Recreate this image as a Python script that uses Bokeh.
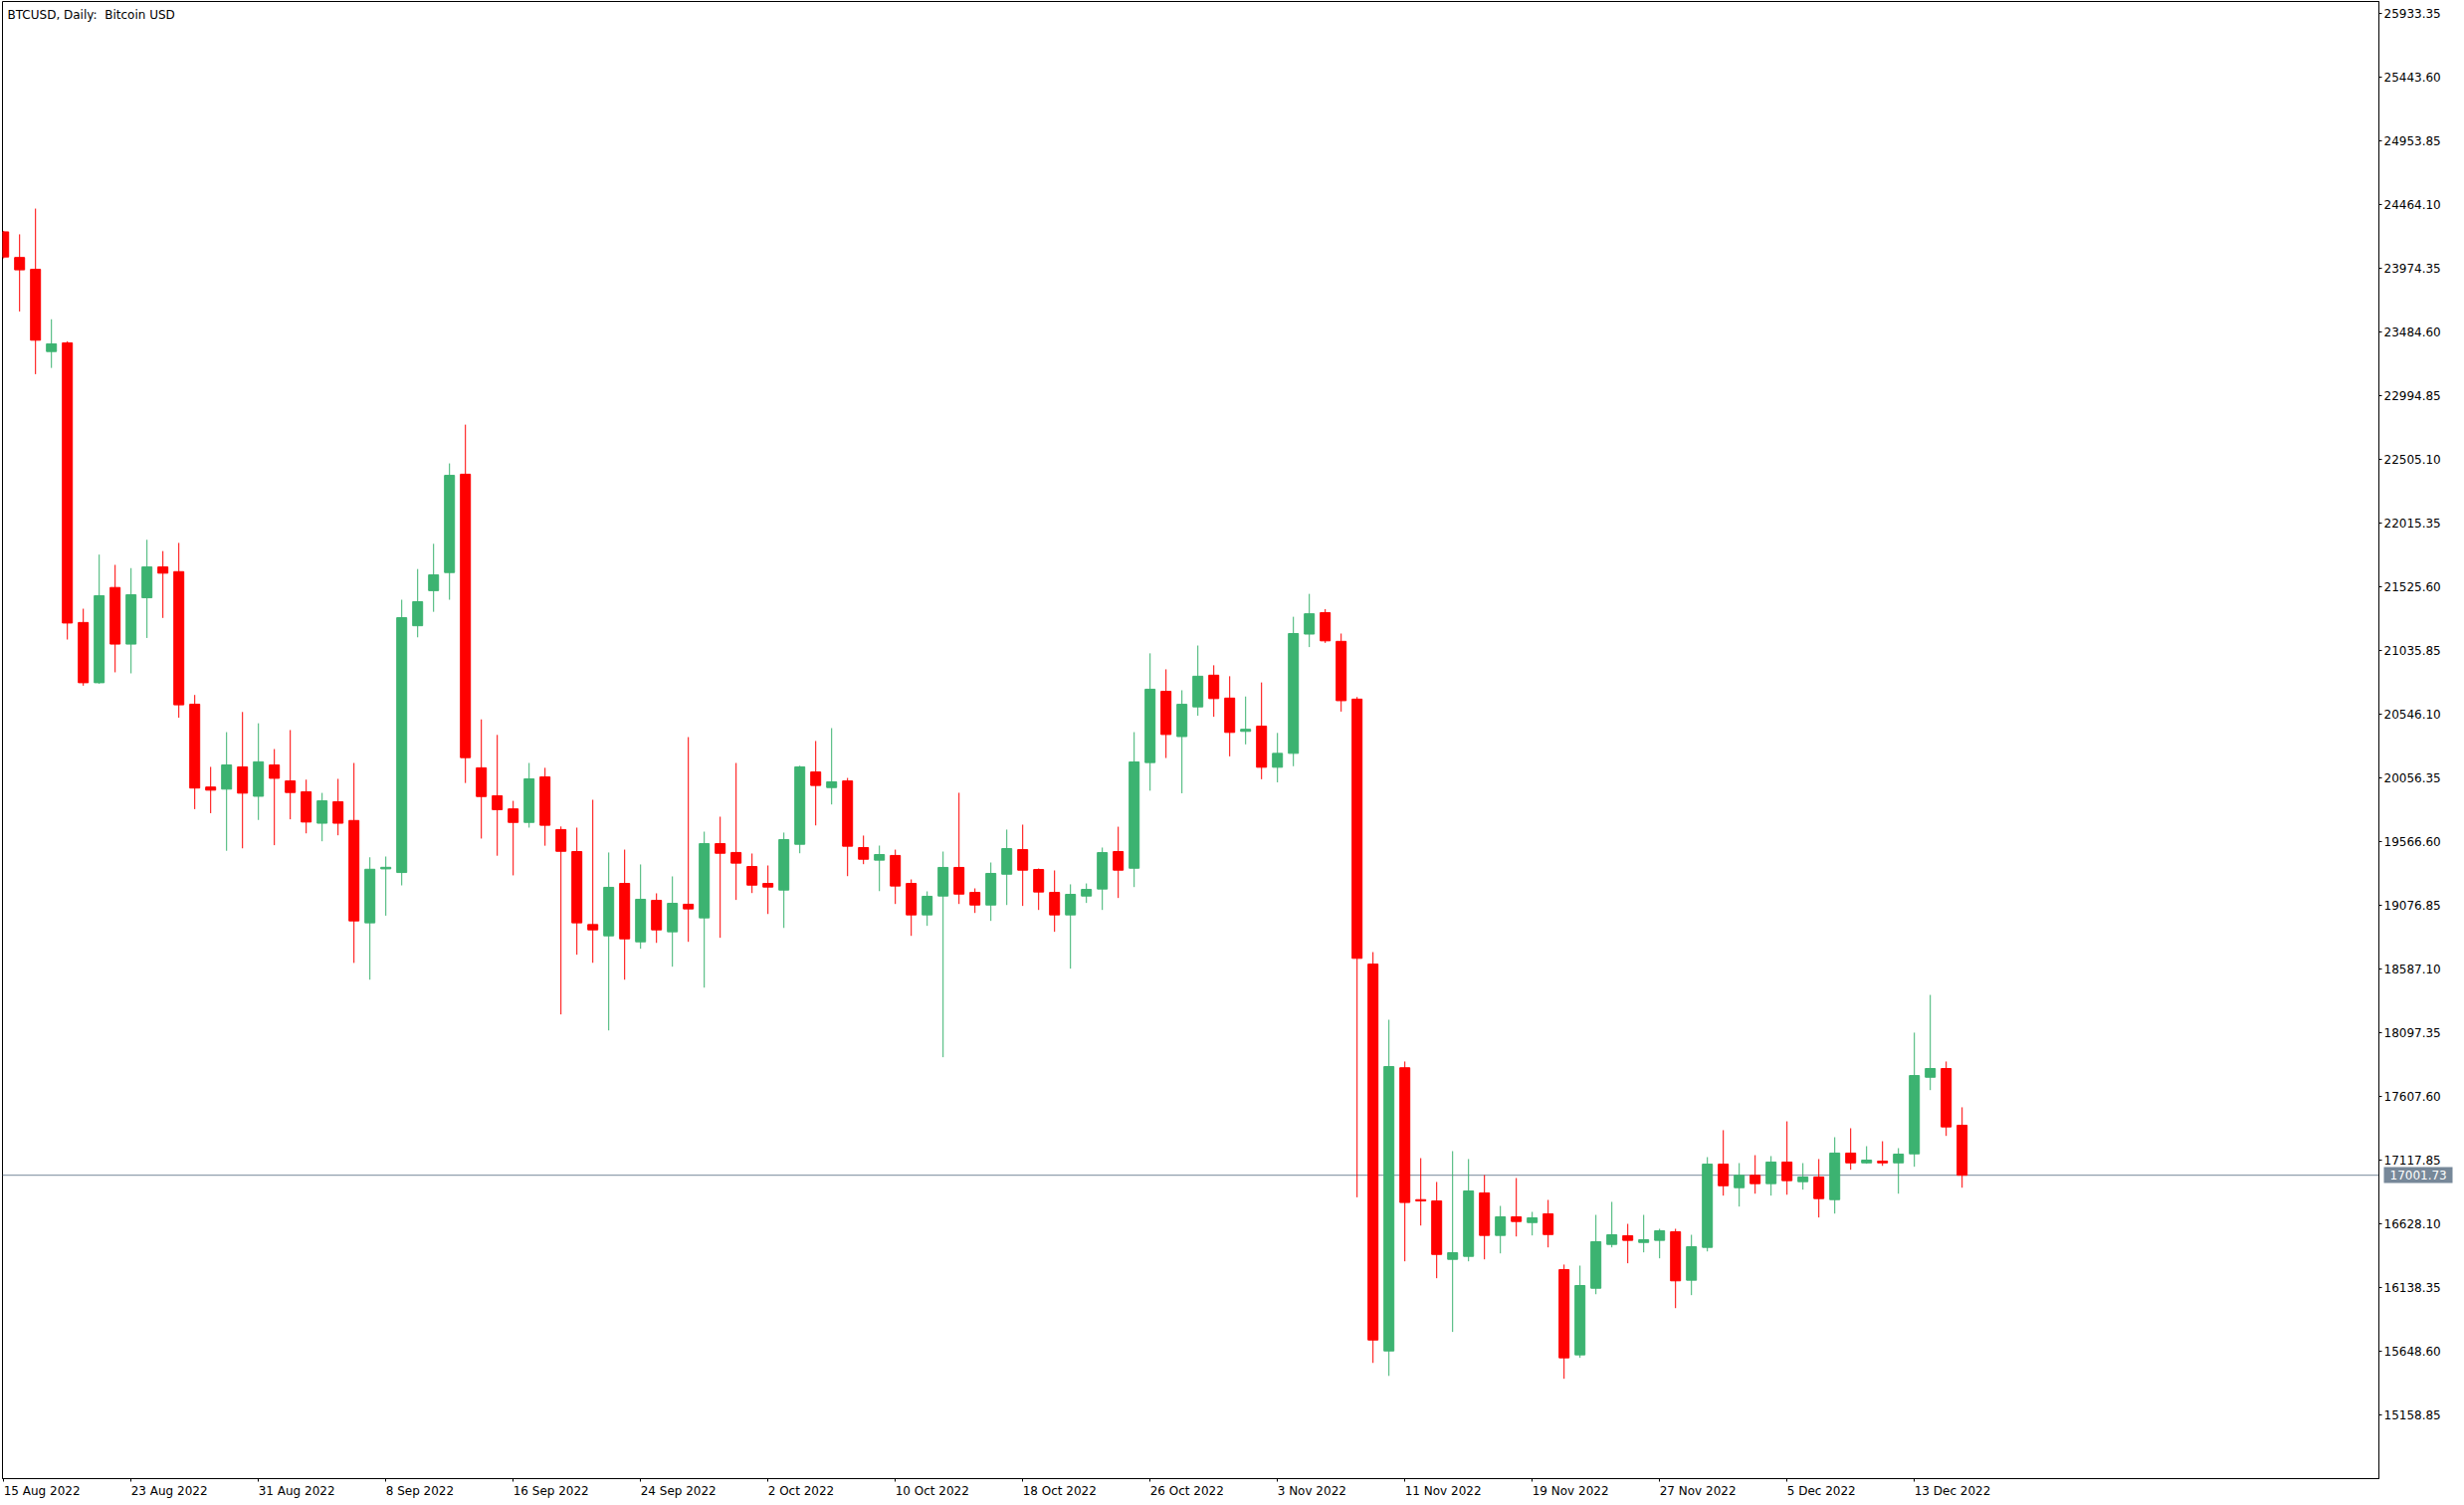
import numpy as np
import pandas as pd
from bokeh.plotting import figure
from bokeh.models import ColumnDataSource, Range1d, FixedTicker, Span, Label, LinearAxis
from bokeh.embed import file_html
from bokeh.resources import INLINE

title_text = "BTCUSD, Daily:\u00a0 Bitcoin USD"
start_date = "2022-08-15"

opens = [
    24254, 24057, 23966, 23334, 23401, 21251, 20788, 21520, 21085, 21441,
    21678, 21642, 20623, 19986, 19970, 20141, 19915, 20156, 20033, 19950,
    19708, 19873, 19729, 18942, 19357, 19329, 21226, 21496, 21635, 22391,
    20134, 19919, 19818, 19714, 20064, 19659, 19490, 18929, 18842, 19245,
    18796, 19115, 18873, 19085, 18980, 19551, 19483, 19375, 19245, 19194,
    19546, 20102, 19982, 20033, 19521, 19424, 19460, 19245, 19003, 19148,
    19368, 19176, 19079, 19316, 19505, 19352, 19176, 19003, 19148, 19202,
    19490, 19362, 20174, 20722, 20374, 20602, 20846, 20670, 20414, 20454,
    20138, 20245, 21162, 21327, 21106, 20662, 18625, 15651, 17828, 16814,
    16804, 16355, 16378, 16866, 16539, 16682, 16638, 16705, 16276, 15621,
    16133, 16470, 16537, 16485, 16501, 16567, 16195, 16447, 17087, 16906,
    17001, 16937, 17103, 16952, 16988, 16814, 17172, 17097, 17110, 17097,
    17166, 17755, 17822, 17386]
highs = [
    24262, 24235, 24433, 23582, 23413, 21357, 21773, 21694, 21669, 21887,
    21800, 21863, 20694, 20141, 20408, 20563, 20476, 20278, 20424, 20043,
    19941, 20049, 20171, 19446, 19452, 21426, 21662, 21856, 22474, 22772,
    20506, 20387, 19880, 20171, 20134, 19683, 19674, 19888, 19483, 19505,
    19391, 19169, 19299, 20370, 19643, 19758, 20171, 19475, 19383, 19636,
    20150, 20340, 20439, 20056, 19613, 19536, 19505, 19276, 19184, 19490,
    19942, 19207, 19406, 19659, 19697, 19360, 19345, 19238, 19245, 19521,
    19681, 20408, 21014, 20891, 20730, 21074, 20922, 20838, 20682, 20790,
    20402, 21295, 21471, 21354, 21166, 20678, 18717, 18197, 17876, 17133,
    16950, 17187, 17126, 17003, 16766, 16980, 16720, 16812, 16315, 16307,
    16697, 16797, 16628, 16697, 16590, 16590, 16544, 17141, 17348, 17095,
    17156, 17149, 17416, 17095, 17126, 17294, 17363, 17225, 17263, 17210,
    18098, 18388, 17876, 17524]
lows = [
    24050, 23642, 23160, 23208, 21120, 20765, 20780, 20868, 20860, 21132,
    21286, 20519, 19816, 19785, 19496, 19515, 19733, 19539, 19738, 19630,
    19569, 19615, 18634, 18505, 18997, 19230, 21137, 21333, 21426, 20017,
    19590, 19458, 19307, 19674, 19535, 18238, 18697, 18635, 18115, 18505,
    18743, 18788, 18605, 18796, 18444, 18827, 19118, 19171, 19010, 18903,
    19477, 19691, 19852, 19301, 19393, 19186, 19087, 18842, 18919, 17909,
    19087, 19018, 18957, 19079, 19072, 19041, 18873, 18590, 19095, 19041,
    19133, 19217, 19958, 20209, 19938, 20534, 20526, 20222, 20314, 20046,
    20022, 20146, 21062, 21094, 20566, 16832, 15559, 15459, 16340, 16615,
    16210, 15797, 16340, 16355, 16401, 16531, 16539, 16447, 15437, 15598,
    16087, 16447, 16325, 16409, 16363, 15980, 16080, 16416, 16845, 16761,
    16860, 16845, 16852, 16891, 16677, 16707, 17044, 17090, 17074, 16860,
    17067, 17656, 17304, 16906]
closes = [
    24061, 23962, 23421, 23393, 21247, 20788, 21457, 21085, 21464, 21678,
    21630, 20618, 19978, 19962, 20156, 19939, 20180, 20053, 19944, 19717,
    19880, 19708, 18957, 19354, 19369, 21288, 21411, 21617, 22382, 20212,
    19913, 19812, 19714, 20049, 19692, 19492, 18942, 18888, 19215, 18819,
    19123, 18888, 19092, 19049, 19551, 19477, 19401, 19232, 19217, 19582,
    20141, 19998, 20026, 19531, 19431, 19467, 19225, 19003, 19146, 19368,
    19163, 19079, 19322, 19513, 19347, 19179, 19003, 19161, 19199, 19482,
    19347, 20179, 20738, 20390, 20622, 20838, 20666, 20406, 20430, 20138,
    20245, 21166, 21318, 21110, 20650, 18669, 15735, 17837, 16792, 16804,
    16393, 16406, 16881, 16539, 16682, 16646, 16674, 16546, 15598, 16154,
    16491, 16544, 16501, 16506, 16575, 16190, 16452, 17087, 16921, 17001,
    16937, 17103, 16960, 16988, 16822, 17172, 17097, 17118, 17097, 17164,
    17768, 17822, 17373, 17001.73]

last_price = 17001.73
last_price_label = "17001.73"

price_ticks = [25933.35, 25443.60, 24953.85, 24464.10, 23974.35, 23484.60,
               22994.85, 22505.10, 22015.35, 21525.60, 21035.85, 20546.10,
               20056.35, 19566.60, 19076.85, 18587.10, 18097.35, 17607.60,
               17117.85, 16628.10, 16138.35, 15648.60, 15158.85]
price_tick_labels = ["25933.35", "25443.60", "24953.85", "24464.10", "23974.35",
                     "23484.60", "22994.85", "22505.10", "22015.35", "21525.60",
                     "21035.85", "20546.10", "20056.35", "19566.60", "19076.85",
                     "18587.10", "18097.35", "17607.60", "17117.85", "16628.10",
                     "16138.35", "15648.60", "15158.85"]
date_tick_labels = ["15 Aug 2022", "23 Aug 2022", "31 Aug 2022", "8 Sep 2022",
                    "16 Sep 2022", "24 Sep 2022", "2 Oct 2022", "10 Oct 2022",
                    "18 Oct 2022", "26 Oct 2022", "3 Nov 2022", "11 Nov 2022",
                    "19 Nov 2022", "27 Nov 2022", "5 Dec 2022", "13 Dec 2022"]

UP = "#3CB371"
DOWN = "#FF0000"
BID = "#778899"
FONT = "DejaVu Sans"
FONT_PX = 12

# layout constants (pixels)
W, H = 2476, 1512
BORDER_L, BORDER_T, BORDER_R, BORDER_B = 2, 1, 86, 27
X_START, X_END = -0.075, 149.175
Y_START, Y_END = 14669.4, 26025.0
px_per_day = (W - BORDER_L - BORDER_R) / (X_END - X_START)

# DejaVu Sans advance widths (em), used to left-align date labels at their ticks
ADV = {"0": .6362, "1": .6362, "2": .6362, "3": .6362, "4": .6362, "5": .6362,
       "6": .6362, "7": .6362, "8": .6362, "9": .6362, " ": .3179, "A": .6841,
       "u": .6338, "g": .6348, "S": .6348, "e": .6152, "p": .6348, "O": .7871,
       "c": .5498, "t": .3921, "N": .748, "o": .6118, "v": .5918, "D": .77, ".": .3179}


def text_px(s):
    return sum(ADV.get(ch, 0.6) for ch in s) * FONT_PX


o = np.array(opens, dtype=float)
h = np.array(highs, dtype=float)
l = np.array(lows, dtype=float)
c = np.array(closes, dtype=float)
idx = np.arange(len(o))
dates = pd.date_range(start_date, periods=len(o), freq="D")
up = c >= o
colors = np.where(up, UP, DOWN)

src = ColumnDataSource(dict(x=idx, o=o, h=h, l=l, c=c,
                            top=np.maximum(o, c), bottom=np.minimum(o, c),
                            color=colors, date=dates.strftime("%d %b %Y")))

date_tick_pos = [(pd.Timestamp(s) - pd.Timestamp(start_date)).days for s in date_tick_labels]
label_centres = [pos + text_px(s) / 2 / px_per_day for pos, s in zip(date_tick_pos, date_tick_labels)]

p = figure(width=W, height=H,
           x_range=Range1d(X_START, X_END), y_range=Range1d(Y_START, Y_END),
           output_backend="svg", toolbar_location=None, y_axis_location="right",
           min_border_left=BORDER_L, min_border_right=BORDER_R,
           min_border_top=BORDER_T, min_border_bottom=BORDER_B)
p.background_fill_color = "white"
p.border_fill_color = "white"
p.outline_line_color = "black"
p.outline_line_width = 1
p.grid.visible = False

bid = Span(location=last_price, dimension="width", line_color=BID, line_width=1, level="underlay")
p.add_layout(bid)

p.segment(x0="x", y0="l", x1="x", y1="h", color="color", line_width=1, source=src)
p.vbar(x="x", width=0.625, top="top", bottom="bottom", fill_color="color",
       line_color="color", line_width=1, source=src)

# price axis
yax = p.yaxis[0]
yax.ticker = FixedTicker(ticks=price_ticks)
yax.major_label_overrides = {t: s for t, s in zip(price_ticks, price_tick_labels)}
yax.major_tick_line_color = "black"
yax.major_tick_in = 0
yax.major_tick_out = 3
yax.major_label_standoff = 2
yax.minor_tick_line_color = None

# date axis: visible tick marks at the dates (minor ticks), labels on invisible
# major ticks shifted so that each label starts at its date tick
xax = p.xaxis[0]
xax.ticker = FixedTicker(ticks=label_centres, minor_ticks=date_tick_pos)
xax.major_label_overrides = {t: s for t, s in zip(label_centres, date_tick_labels)}
xax.major_tick_line_color = None
xax.major_tick_in = 0
xax.major_tick_out = 3
xax.minor_tick_line_color = "black"
xax.minor_tick_in = 0
xax.minor_tick_out = 3
xax.major_label_standoff = 2

for ax in (xax, yax):
    ax.axis_line_color = "black"
    ax.major_label_text_font = FONT
    ax.major_label_text_font_size = f"{FONT_PX}px"
    ax.major_label_text_color = "black"

# last-price marker on the price scale: a second right axis with a single tick,
# whose thick tick mark forms the box and whose label is drawn in white on it
main_axis_px = 3 + 2 + text_px(price_tick_labels[0])      # size of the main price axis
box_left, box_right, text_left = 2, 71, 8                 # relative to the frame edge
price_axis = LinearAxis(ticker=FixedTicker(ticks=[last_price]),
                        major_label_overrides={last_price: last_price_label})
price_axis.axis_line_color = None
price_axis.minor_tick_line_color = None
price_axis.major_tick_line_color = BID
price_axis.major_tick_line_width = 16
price_axis.major_tick_line_cap = "butt"
price_axis.major_tick_in = int(round(main_axis_px - box_left))
price_axis.major_tick_out = int(round(box_right - main_axis_px))
price_axis.major_label_standoff = int(round(text_left - main_axis_px - price_axis.major_tick_out))
price_axis.major_label_text_font = FONT
price_axis.major_label_text_font_size = f"{FONT_PX}px"
price_axis.major_label_text_color = "white"
p.add_layout(price_axis, "right")

p.add_layout(Label(x=0.2375, y=25925.0, text=title_text, text_align="left",
                   text_baseline="alphabetic", text_font=FONT, text_font_size=f"{FONT_PX}px",
                   text_color="black"))

open("out.html", "w").write(file_html(p, INLINE))
